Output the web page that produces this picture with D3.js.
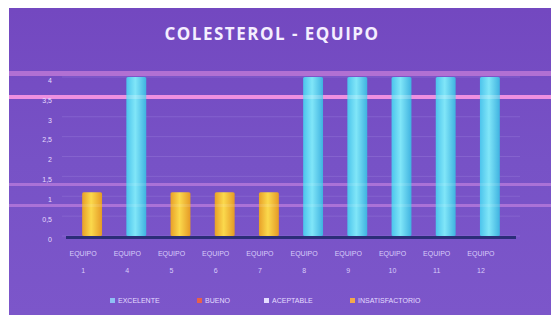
<!DOCTYPE html>
<html><head><meta charset="utf-8">
<script src="https://cdn.jsdelivr.net/npm/d3@7"></script>
<style>html,body{margin:0;padding:0;background:#fff;overflow:hidden}</style>
</head><body>
<svg id="c" width="551" height="315"></svg>
<script>
const categories = ["EQUIPO 1","EQUIPO 4","EQUIPO 5","EQUIPO 6","EQUIPO 7","EQUIPO 8","EQUIPO 9","EQUIPO 10","EQUIPO 11","EQUIPO 12"];
const excelente = [0,4,0,0,0,4,4,4,4,4];
const bueno = [0,0,0,0,0,0,0,0,0,0];
const aceptable = [0,0,0,0,0,0,0,0,0,0];
const insatisfactorio = [1.1,0,1.1,1.1,1.1,0,0,0,0,0];
const yTicks = [0,0.5,1,1.5,2,2.5,3,3.5,4];
const seriesNames = ["EXCELENTE","BUENO","ACEPTABLE","INSATISFACTORIO"];
const title = "COLESTEROL - EQUIPO";

const svg = d3.select("#c");
const W = 551, H = 315;
const defs = svg.append("defs");
const bg = defs.append("linearGradient").attr("id","bg").attr("x1",0).attr("y1",0).attr("x2",0).attr("y2",1);
bg.append("stop").attr("offset","0").attr("stop-color","#7348c0");
bg.append("stop").attr("offset","0.5").attr("stop-color","#7752c6");
bg.append("stop").attr("offset","1").attr("stop-color","#7c56ca");
const gb = defs.append("linearGradient").attr("id","gb").attr("x1",0).attr("x2",1);
gb.append("stop").attr("offset","0").attr("stop-color","#4cc4ec");
gb.append("stop").attr("offset","0.45").attr("stop-color","#80e6f8");
gb.append("stop").attr("offset","1").attr("stop-color","#3fb2e0");
const go = defs.append("linearGradient").attr("id","go").attr("x1",0).attr("x2",1);
go.append("stop").attr("offset","0").attr("stop-color","#e8a028");
go.append("stop").attr("offset","0.45").attr("stop-color","#fbd94c");
go.append("stop").attr("offset","1").attr("stop-color","#e59a26");

// frame
svg.append("rect").attr("x",9).attr("y",8).attr("width",W-9).attr("height",H-8).attr("fill","url(#bg)");

// decorative scan bands
const bands = [{y:71,h:5,c:"#d86cd8",o:0.5},{y:95,h:4,c:"#f070d8",o:0.95},{y:183,h:3,c:"#d070e0",o:0.45},{y:204,h:3,c:"#d070e0",o:0.45}];

const x = d3.scaleBand().domain(categories).range([70,512]).paddingInner(0.55).paddingOuter(0.275);
const y = d3.scaleLinear().domain([0,4]).range([236,77]);

// gridlines
svg.append("g").selectAll("line").data(yTicks).join("line")
  .attr("x1",62).attr("x2",520).attr("y1",d=>y(d)).attr("y2",d=>y(d))
  .attr("stroke","#a58ae0").attr("stroke-opacity",0.3).attr("stroke-width",1);

svg.append("g").selectAll("rect").data(bands).join("rect")
  .attr("x",9).attr("width",W-9).attr("y",d=>d.y).attr("height",d=>d.h)
  .attr("fill",d=>d.c).attr("opacity",d=>d.o);

// floor
svg.append("rect").attr("x",66).attr("y",y(0)).attr("width",450).attr("height",3).attr("fill","#2b2d78");

// bars
const fills = ["url(#gb)","#e0604c","#e2dcff","url(#go)"];
const series = [excelente,bueno,aceptable,insatisfactorio];
series.forEach((vals,si)=>{
  svg.append("g").selectAll("rect").data(categories.map((c,i)=>({c,v:vals[i]})).filter(d=>d.v>0)).join("rect")
    .attr("x",d=>x(d.c)).attr("width",x.bandwidth())
    .attr("y",d=>y(d.v)).attr("height",d=>y(0)-y(d.v))
    .attr("fill",fills[si]).attr("rx",1.5);
});
// band highlight over bars
svg.append("g").selectAll("rect").data(bands).join("rect")
  .attr("x",9).attr("width",W-9).attr("y",d=>d.y).attr("height",d=>d.h)
  .attr("fill","#ffffff").attr("opacity",d=>d.o*0.25);

// y axis
const ya = svg.append("g").attr("transform","translate(52,3)")
  .call(d3.axisLeft(y).tickValues(yTicks).tickSize(0).tickPadding(0).tickFormat(d=>String(d).replace(".",",")));
ya.select(".domain").remove();
ya.selectAll("text").attr("fill","#e6dcff").attr("font-size","7px").attr("font-family","Arial, Liberation Sans, sans-serif");

// x axis
const xa = svg.append("g").attr("transform","translate(-9,"+(y(0)+14)+")")
  .call(d3.axisBottom(x).tickSize(0).tickPadding(0).tickFormat(""));
xa.select(".domain").remove();
xa.selectAll(".tick").each(function(d){
  const parts = d.split(" ");
  const t = d3.select(this).append("text").attr("fill","#d8ccfa").attr("font-size","7px")
    .attr("font-family","Arial, Liberation Sans, sans-serif").attr("text-anchor","middle");
  t.append("tspan").attr("x",0).attr("y",6).text(parts[0]);
  t.append("tspan").attr("x",0).attr("y",23).text(parts[1]);
});

// title
svg.append("text").attr("x",272).attr("y",40).attr("text-anchor","middle")
  .attr("fill","#f4eeff").attr("font-size","17px").attr("font-weight","bold").attr("letter-spacing","1.5px")
  .attr("font-family","Open Sans, DejaVu Sans, sans-serif").text(title);

// legend
const legX = [110,197,264,350];
const legColors = ["#8fc0f4","#e8604a","#e4dcff","#f4a84a"];
const lg = svg.append("g").selectAll("g").data(seriesNames).join("g")
  .attr("transform",(d,i)=>`translate(${legX[i]},302)`);
lg.append("rect").attr("x",0).attr("y",-4).attr("width",5).attr("height",5).attr("fill",(d,i)=>legColors[i]);
lg.append("text").attr("x",8).attr("y",1).attr("fill","#e4dcff").attr("font-size","7px")
  .attr("font-family","Arial, Liberation Sans, sans-serif").text(d=>d);
</script>
</body></html>
